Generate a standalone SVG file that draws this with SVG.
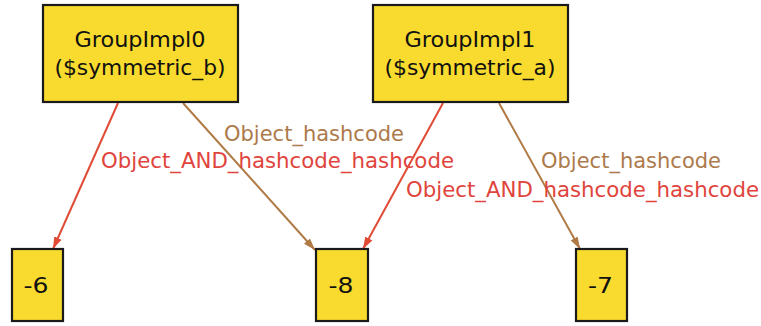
<svg xmlns="http://www.w3.org/2000/svg" width="761" height="326" viewBox="0 0 761 326">
<style>
.box{fill:#f8db2e;stroke:#1a1a1a;stroke-width:2.2}
.nt{font-family:"DejaVu Sans",sans-serif;font-size:21px;fill:#111;text-anchor:middle}
.num{font-size:22px}
.lbl{font-family:"DejaVu Sans",sans-serif;font-size:21px}
.red{stroke:#e04b36;stroke-width:2;fill:none}
.brown{stroke:#b07a45;stroke-width:2;fill:none}
.lr{fill:#e0443c}
.lb{fill:#ad7a4c}
</style>
<defs>
<marker id="ar" viewBox="0 0 12 8" refX="12" refY="4" markerWidth="12" markerHeight="8" markerUnits="userSpaceOnUse" orient="auto"><path d="M0,0 L12,4 L0,8 Z" fill="#e04b36"/></marker>
<marker id="ab" viewBox="0 0 12 8" refX="12" refY="4" markerWidth="12" markerHeight="8" markerUnits="userSpaceOnUse" orient="auto"><path d="M0,0 L12,4 L0,8 Z" fill="#b07a45"/></marker>
</defs>
<rect width="761" height="326" fill="#fff"/>
<g id="connectors">
<line class="red" x1="118" y1="103" x2="53" y2="249" marker-end="url(#ar)"/>
<line class="brown" x1="183" y1="103" x2="315" y2="250" marker-end="url(#ab)"/>
<line class="red" x1="443" y1="103" x2="363" y2="249" marker-end="url(#ar)"/>
<line class="brown" x1="499" y1="103" x2="580" y2="249" marker-end="url(#ab)"/>
<text class="lbl lb" x="224" y="141" textLength="180" lengthAdjust="spacingAndGlyphs">Object_hashcode</text>
<text class="lbl lr" x="101" y="168" textLength="353" lengthAdjust="spacingAndGlyphs">Object_AND_hashcode_hashcode</text>
<text class="lbl lb" x="541" y="168" textLength="180" lengthAdjust="spacingAndGlyphs">Object_hashcode</text>
<text class="lbl lr" x="406" y="197" textLength="353" lengthAdjust="spacingAndGlyphs">Object_AND_hashcode_hashcode</text>
</g>
<g id="GroupImpl0">
<rect class="box" x="43" y="5" width="195" height="97"/>
<text class="nt" x="140" y="47" textLength="131" lengthAdjust="spacingAndGlyphs">GroupImpl0</text>
<text class="nt" x="140" y="75" textLength="171" lengthAdjust="spacingAndGlyphs">($symmetric_b)</text>
</g>
<g id="GroupImpl1">
<rect class="box" x="373" y="5" width="195" height="97"/>
<text class="nt" x="470" y="47" textLength="131" lengthAdjust="spacingAndGlyphs">GroupImpl1</text>
<text class="nt" x="470" y="75" textLength="171" lengthAdjust="spacingAndGlyphs">($symmetric_a)</text>
</g>
<g id="n-6">
<rect class="box" x="12" y="249" width="51" height="72"/>
<text class="nt num" x="36" y="293" textLength="25" lengthAdjust="spacingAndGlyphs">-6</text>
</g>
<g id="n-8">
<rect class="box" x="316" y="249" width="52" height="72"/>
<text class="nt num" x="341" y="293" textLength="25" lengthAdjust="spacingAndGlyphs">-8</text>
</g>
<g id="n-7">
<rect class="box" x="576" y="249" width="51" height="72"/>
<text class="nt num" x="600.5" y="293" textLength="25" lengthAdjust="spacingAndGlyphs">-7</text>
</g>
</svg>
